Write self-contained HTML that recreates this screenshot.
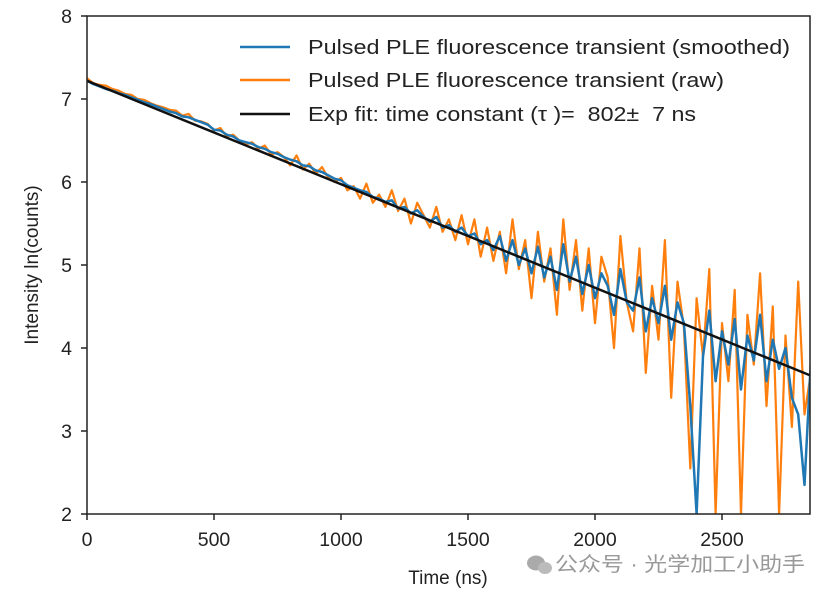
<!DOCTYPE html>
<html><head><meta charset="utf-8"><style>
body{margin:0;background:#fff;width:831px;height:596px;overflow:hidden}
text{font-family:"Liberation Sans","Noto Sans CJK SC",sans-serif;fill:#222}
</style></head><body>
<svg id="chart" width="831" height="596">
<defs><clipPath id="pc"><rect x="87" y="16" width="723" height="498"/></clipPath></defs>
<g id="series" clip-path="url(#pc)"></g>
<rect x="87" y="16" width="723" height="498" fill="none" stroke="#222" stroke-width="1.5"/>
<g id="axes"></g>
<text x="448" y="584" font-size="19" text-anchor="middle">Time (ns)</text>
<text transform="translate(38,265) rotate(-90)" font-size="19" text-anchor="middle">Intensity ln(counts)</text>
<g>
<line x1="240" y1="47" x2="290" y2="47" stroke="#1f77b4" stroke-width="2.5"/>
<text x="308" y="54" font-size="20" textLength="482" lengthAdjust="spacingAndGlyphs">Pulsed PLE fluorescence transient (smoothed)</text>
<line x1="240" y1="80" x2="290" y2="80" stroke="#ff7f0e" stroke-width="2.5"/>
<text x="308" y="87" font-size="20" textLength="416" lengthAdjust="spacingAndGlyphs">Pulsed PLE fluorescence transient (raw)</text>
<line x1="240" y1="114" x2="290" y2="114" stroke="#111" stroke-width="2.5"/>
<text x="308" y="121" font-size="20" textLength="388" lengthAdjust="spacingAndGlyphs" xml:space="preserve">Exp fit: time constant (τ )=  802±  7 ns</text>
</g>
<g>
<ellipse cx="536" cy="563" rx="9" ry="7.5" fill="#aaa"/>
<ellipse cx="545" cy="568" rx="7" ry="6" fill="#bbb"/>
<text x="555" y="571" font-size="20" textLength="250" lengthAdjust="spacingAndGlyphs" style="fill:#999">公众号 · 光学加工小助手</text>
</g>
</svg>
<script>
const xTicks=[0,500,1000,1500,2000,2500];
const yTicks=[2,3,4,5,6,7,8];
const tStep=25;
const rawValues=[7.25,7.19,7.17,7.16,7.12,7.10,7.06,7.05,7.00,6.99,6.95,6.92,6.90,6.87,6.86,6.80,6.82,6.74,6.73,6.70,
6.62,6.65,6.55,6.57,6.50,6.45,6.48,6.40,6.44,6.33,6.36,6.30,6.20,6.32,6.15,6.22,6.10,6.18,6.05,6.00,
6.05,5.90,5.95,5.80,5.98,5.75,5.85,5.70,5.90,5.65,5.80,5.50,5.75,5.60,5.45,5.70,5.40,5.55,5.30,5.60,
5.25,5.55,5.10,5.45,5.05,5.40,4.90,5.55,4.95,5.30,4.60,5.40,4.80,5.20,4.40,5.55,4.70,5.30,4.45,5.20,
4.30,5.10,4.85,4.00,5.35,4.55,4.20,5.20,3.70,4.75,4.10,5.30,3.40,4.80,4.25,2.55,4.60,3.90,4.95,2.00,
4.30,3.60,4.70,2.00,4.40,3.80,4.90,3.30,4.50,2.00,4.15,3.05,4.80,3.20,3.70];
const smoothValues=[7.22,7.18,7.15,7.12,7.10,7.07,7.05,7.02,6.99,6.96,6.94,6.91,6.88,6.85,6.83,6.79,6.78,6.75,6.72,6.69,
6.63,6.62,6.57,6.55,6.50,6.48,6.46,6.42,6.40,6.36,6.34,6.30,6.27,6.25,6.20,6.19,6.14,6.12,6.08,6.04,
6.02,5.96,5.93,5.90,5.88,5.82,5.80,5.76,5.78,5.68,5.70,5.62,5.66,5.58,5.52,5.58,5.45,5.48,5.40,5.45,
5.35,5.38,5.25,5.30,5.18,5.35,5.05,5.30,5.00,5.20,4.90,5.22,4.85,5.10,4.70,5.25,4.80,5.10,4.65,5.00,
4.60,4.90,4.75,4.40,4.95,4.55,4.45,4.85,4.20,4.60,4.30,4.75,4.10,4.55,4.30,3.30,2.00,3.90,4.45,3.60,
4.20,3.80,4.35,3.50,4.15,3.85,4.40,3.60,4.10,3.75,4.00,3.40,3.20,2.35,3.85];
const fitIntercept=7.22;
const fitTau=802;
const xMax=2846;

const X=t=>87+t*0.254;
const Y=v=>514-(v-2)*83;
const NS='http://www.w3.org/2000/svg';
const series=document.getElementById('series');
const axes=document.getElementById('axes');
function mk(tag,attrs,parent){const e=document.createElementNS(NS,tag);for(const k in attrs)e.setAttribute(k,attrs[k]);parent.appendChild(e);return e;}
function path(vals){return vals.map((v,i)=>(i?'L':'M')+X(i*tStep).toFixed(1)+','+Y(v).toFixed(1)).join('');}
const raw=mk('path',{d:path(rawValues),fill:'none',stroke:'#ff7f0e','stroke-width':2.2,'stroke-linejoin':'round'},series);


const sm=mk('path',{d:path(smoothValues),fill:'none',stroke:'#1f77b4','stroke-width':2.5,'stroke-linejoin':'round'},series);


const fit=mk('line',{x1:X(0),y1:Y(fitIntercept),x2:X(xMax),y2:Y(fitIntercept-xMax/fitTau),stroke:'#111','stroke-width':2.5},series);


xTicks.forEach(t=>{
  const l=mk('line',{x1:X(t),y1:514,x2:X(t),y2:520,stroke:'#222','stroke-width':1.5},axes);
  
  
  const tx=mk('text',{x:X(t),y:546,'font-size':19.5,'text-anchor':'middle'},axes);
  tx.textContent=t;
  
  
});
yTicks.forEach(v=>{
  const l=mk('line',{x1:81,y1:Y(v),x2:87,y2:Y(v),stroke:'#222','stroke-width':1.5},axes);
  
  
  const tx=mk('text',{x:72,y:Y(v)+7,'font-size':19.5,'text-anchor':'end'},axes);
  tx.textContent=v;
  
  
});
</script>
</body></html>
